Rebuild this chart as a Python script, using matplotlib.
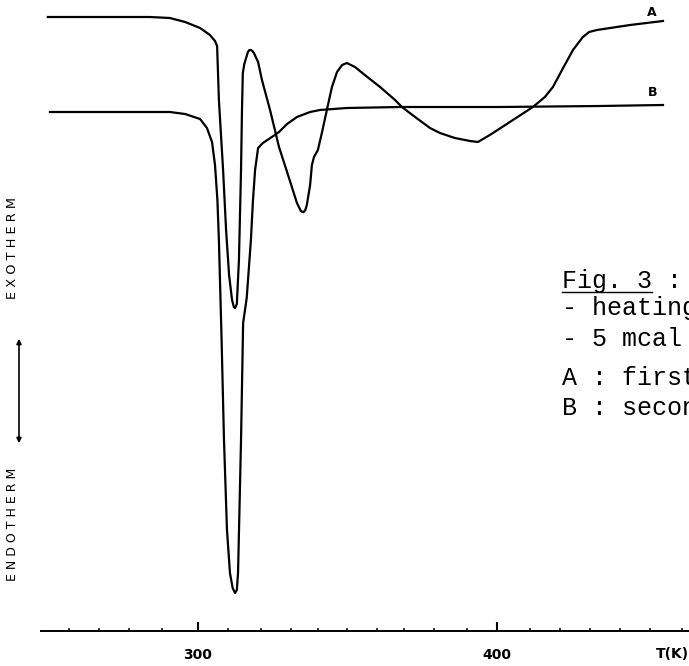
import matplotlib
matplotlib.use('Agg')
import matplotlib.pyplot as plt

# DSC-trace, eerste (A) en tweede (B) opwarming
# T in K, signaal in willekeurige eenheden (1 = hoogte van de T-as)
T_a = [249.8, 267.2, 283.9, 290.6, 295.7, 300.7, 304.0, 305.7, 306.4, 307.0,
       308.4, 309.4, 310.4, 311.4, 312.0, 312.4, 313.0, 313.7, 314.4, 314.7,
       315.0, 315.5, 316.1, 316.7, 317.2, 317.7, 318.2, 318.7, 320.1, 321.4,
       324.1, 327.1, 329.8, 333.1, 334.4, 335.0, 335.4, 335.9, 336.4, 337.5,
       338.1, 338.8, 340.1, 341.5, 343.1, 344.8, 346.5, 348.2, 349.8, 352.5,
       355.8, 360.9, 365.9, 368.2, 372.6, 377.6, 380.9, 385.9, 391.0, 393.6,
       397.6, 404.3, 412.0, 416.0, 418.7, 422.1, 425.4, 428.7, 430.8, 433.4,
       444.5, 455.5]
sig_a = [62.3, 62.3, 62.3, 62.2, 61.8, 61.2, 60.5, 59.9, 59.4, 54.0,
         47.0, 41.0, 36.5, 34.0, 33.3, 33.2, 33.6, 38.0, 47.0, 52.7,
         56.7, 57.6, 58.2, 58.8, 59.0, 59.0, 58.9, 58.7, 57.8, 56.0,
         53.0, 49.3, 46.8, 43.7, 42.9, 42.8, 42.8, 43.0, 43.5, 45.5,
         47.5, 48.3, 49.0, 50.8, 53.0, 55.3, 56.8, 57.5, 57.7, 57.3,
         56.5, 55.3, 54.0, 53.3, 52.3, 51.2, 50.7, 50.2, 49.9, 49.8,
         50.5, 51.8, 53.3, 54.3, 55.3, 57.2, 59.0, 60.3, 60.8, 61.0,
         61.5, 61.9]

T_b = [250.5, 267.2, 283.9, 290.6, 295.7, 300.7, 303.0, 304.7, 305.7, 306.5,
       307.0, 307.9, 308.7, 309.7, 310.7, 311.6, 312.4, 313.0, 313.4, 314.4,
       315.1, 316.3, 317.7, 318.4, 319.1, 320.1, 321.7, 324.7, 327.1, 329.8,
       333.1, 337.5, 340.8, 349.8, 367.6, 401.0, 434.4, 455.5]
sig_b = [52.8, 52.8, 52.8, 52.8, 52.6, 52.1, 51.2, 49.8, 47.5, 44.0,
         40.0, 30.0, 20.0, 11.0, 6.7, 5.2, 4.7, 5.0, 6.7, 20.0,
         31.7, 34.2, 40.0, 44.0, 47.0, 49.2, 49.7, 50.3, 50.8, 51.6,
         52.3, 52.8, 53.0, 53.2, 53.3, 53.3, 53.4, 53.5]

major_ticks = [300, 400]
minor_ticks = [257, 267, 277, 288, 310, 321, 331, 340, 350, 360, 369, 379,
               390, 411, 421, 431, 441, 451, 462]

notes = ['- heating', '- 5 mcal', 'A : first', 'B : second']

W, H = 689, 666
fig = plt.figure(figsize=(W / 100, H / 100), dpi=100)
ax = fig.add_axes([0, 0, 1, 1])
ax.set_xlim(233.8, 464.2)
ax.set_ylim(-2.6, 64)

ax.plot(T_a, sig_a, color='black', lw=1.6, solid_joinstyle='round')
ax.plot(T_b, sig_b, color='black', lw=1.6, solid_joinstyle='round')

# alleen een T-as onderaan
for s in ['left', 'top', 'right']:
    ax.spines[s].set_visible(False)
ax.spines['bottom'].set_position(('data', 0.9))
ax.spines['bottom'].set_bounds(247.5, 466)
ax.spines['bottom'].set_linewidth(1.4)
ax.set_yticks([])
ax.set_xticks(major_ticks)
ax.set_xticks(minor_ticks, minor=True)
ax.tick_params(axis='x', which='major', direction='in', length=6.5, width=1.5,
               pad=12.5, labelsize=10)
ax.tick_params(axis='x', which='minor', direction='in', length=2.5, width=1.1)
for lbl in ax.get_xticklabels():
    lbl.set_fontweight('bold')

def fx(px):
    return px / W

def fy(py):
    return 1 - py / H

fig.text(fx(672), fy(654), 'T(K)', ha='center', va='center', fontsize=10,
         fontweight='bold')

# curve labels
fig.text(fx(652), fy(13), 'A', ha='center', va='center', fontsize=9, fontweight='bold')
fig.text(fx(653), fy(93), 'B', ha='center', va='center', fontsize=9, fontweight='bold')

# exotherm / endotherm aanduiding
fig.text(fx(13), fy(248), 'E X O T H E R M', rotation=90, ha='center',
         va='center', fontsize=9.3)
fig.text(fx(13), fy(524), 'E N D O T H E R M', rotation=90, ha='center',
         va='center', fontsize=9.0)
fig.add_artist(matplotlib.patches.FancyArrowPatch(
    (fx(19), fy(446)), (fx(19), fy(336)), transform=fig.transFigure,
    arrowstyle='<|-|>', mutation_scale=7, lw=1.2, color='black'))

# bijschrift rechts (loopt over de rand)
mono = 'Liberation Mono'
fig.text(fx(562), fy(288), 'Fig. 3 :', family=mono, fontsize=18, va='baseline')
fig.add_artist(plt.Line2D([fx(562), fx(652)], [fy(292), fy(292)], lw=1.0,
                          color='black', transform=fig.transFigure))
for txt, base in zip(notes, [315, 346, 385, 415]):
    fig.text(fx(562), fy(base), txt, family=mono, fontsize=18, va='baseline')

fig.savefig('out.png', dpi=100)
